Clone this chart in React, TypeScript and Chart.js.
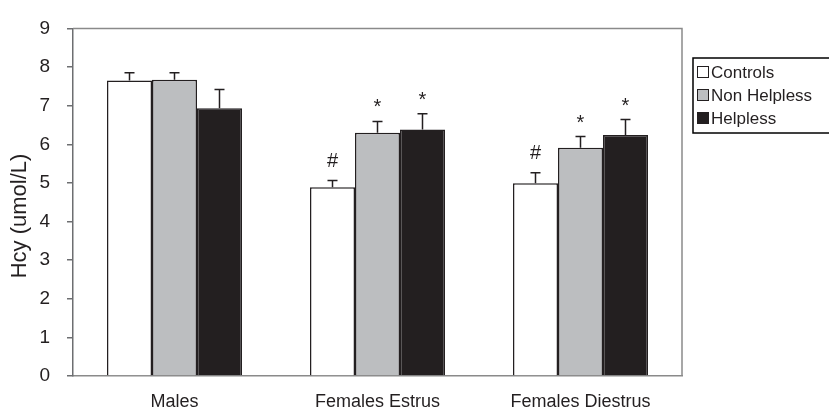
import { useEffect, useRef } from "react";
import { Chart, registerables } from "chart.js";
Chart.register(...registerables);

const categories = ["Males", "Females Estrus", "Females Diestrus"];
const seriesNames = ["Controls", "Non Helpless", "Helpless"];
const controlsValues = [7.65, 4.89, 4.99];
const nonHelplessValues = [7.67, 6.3, 5.91];
const helplessValues = [6.93, 6.38, 6.24];
const controlsErrors = [0.2, 0.17, 0.27];
const nonHelplessErrors = [0.18, 0.29, 0.29];
const helplessErrors = [0.49, 0.41, 0.4];
const controlsMarks = ["", "#", "#"];
const nonHelplessMarks = ["", "*", "*"];
const helplessMarks = ["", "*", "*"];
const yTickValues = [0, 1, 2, 3, 4, 5, 6, 7, 8, 9];
const yAxisTitle = "Hcy (umol/L)";

const FONT = "'Liberation Sans', Arial, sans-serif";
const DARK = "#231f20";
const AXIS = "#6d6e71";
const fills = ["#ffffff", "#bcbec0", "#231f20"];

export default function App() {
  const ref = useRef<HTMLCanvasElement | null>(null);
  useEffect(() => {
    document.body.style.margin = "0";
    const canvas = ref.current!;
    const errors = [controlsErrors, nonHelplessErrors, helplessErrors];
    const marks = [controlsMarks, nonHelplessMarks, helplessMarks];

    const extras = {
      id: "extras",
      afterDatasetsDraw(chart: any) {
        const ctx = chart.ctx;
        const ys = chart.scales.y;
        ctx.save();
        chart.data.datasets.forEach((ds: any, di: number) => {
          const meta = chart.getDatasetMeta(di);
          meta.data.forEach((bar: any, i: number) => {
            const v = ds.data[i];
            const e = errors[di][i];
            const x = bar.x;
            const yTop = ys.getPixelForValue(v);
            const yCap = ys.getPixelForValue(v + e);
            ctx.strokeStyle = DARK;
            ctx.lineWidth = 1.5;
            ctx.beginPath();
            ctx.moveTo(x, yTop);
            ctx.lineTo(x, yCap);
            ctx.moveTo(x - 5, yCap);
            ctx.lineTo(x + 5, yCap);
            ctx.stroke();
            const m = marks[di][i];
            if (m) {
              ctx.fillStyle = DARK;
              ctx.textAlign = "center";
              ctx.textBaseline = "alphabetic";
              ctx.font = `20px ${FONT}`;
              const off = m === "#" ? 14 : 8;
              ctx.fillText(m, x, yCap - off);
            }
          });
        });
        ctx.restore();
      },
      afterDraw(chart: any) {
        const ctx = chart.ctx;
        const a = chart.chartArea;
        ctx.save();
        ctx.strokeStyle = "#8a8a8a";
        ctx.lineWidth = 1.5;
        ctx.beginPath();
        ctx.moveTo(a.left, a.top);
        ctx.lineTo(a.right, a.top);
        ctx.lineTo(a.right, a.bottom);
        ctx.stroke();
        ctx.fillStyle = DARK;
        ctx.font = `22px ${FONT}`;
        ctx.textAlign = "center";
        ctx.textBaseline = "middle";
        ctx.translate(20, 216);
        ctx.rotate(-Math.PI / 2);
        ctx.fillText(yAxisTitle, 0, 0);
        ctx.setTransform(1, 0, 0, 1, 0, 0);
        ctx.strokeStyle = "#000";
        ctx.lineWidth = 1.5;
        ctx.strokeRect(693, 58, 150, 75);
        ctx.font = `17px ${FONT}`;
        ctx.textAlign = "left";
        ctx.textBaseline = "middle";
        chart.data.datasets.forEach((ds: any, di: number) => {
          const cy = 72 + di * 23;
          ctx.fillStyle = ds.backgroundColor;
          ctx.fillRect(697.5, cy - 5.5, 11, 11);
          ctx.strokeStyle = DARK;
          ctx.lineWidth = 1;
          ctx.strokeRect(697.5, cy - 5.5, 11, 11);
          ctx.fillStyle = DARK;
          ctx.fillText(ds.label, 711, cy + 1);
        });
        ctx.restore();
      },
    };

    const chart = new Chart(canvas, {
      type: "bar",
      data: {
        labels: categories,
        datasets: [controlsValues, nonHelplessValues, helplessValues].map((d, i) => ({
          label: seriesNames[i],
          data: d,
          backgroundColor: fills[i],
          borderColor: DARK,
          borderWidth: 1.5,
          barPercentage: 1,
          categoryPercentage: 0.665,
        })),
      },
      options: {
        responsive: false,
        animation: false,
        devicePixelRatio: 1,
        layout: { padding: { left: 0, top: 20, right: 147, bottom: 0 } },
        plugins: { legend: { display: false }, tooltip: { enabled: false } },
        scales: {
          x: {
            grid: { display: false, drawTicks: false },
            border: { display: true, color: "#8a8a8a", width: 1.5 },
            ticks: { color: DARK, font: { family: FONT, size: 18 }, padding: 15 },
            afterFit: (s: any) => { s.height = 37; },
          },
          y: {
            min: 0,
            max: 9,
            afterBuildTicks: (s: any) => { s.ticks = yTickValues.map((v) => ({ value: v })); },
            grid: { drawOnChartArea: false, tickLength: 6, color: AXIS, lineWidth: 1.5 },
            border: { display: true, color: AXIS, width: 1.5 },
            ticks: { color: DARK, font: { family: FONT, size: 19 }, padding: 17 },
            afterFit: (s: any) => { s.width = 73; },
          },
        },
      },
      plugins: [extras],
    });
    return () => chart.destroy();
  }, []);
  return (
    <div style={{ width: 829, height: 413, position: "relative" }}>
      <canvas ref={ref} width={829} height={413} />
    </div>
  );
}
